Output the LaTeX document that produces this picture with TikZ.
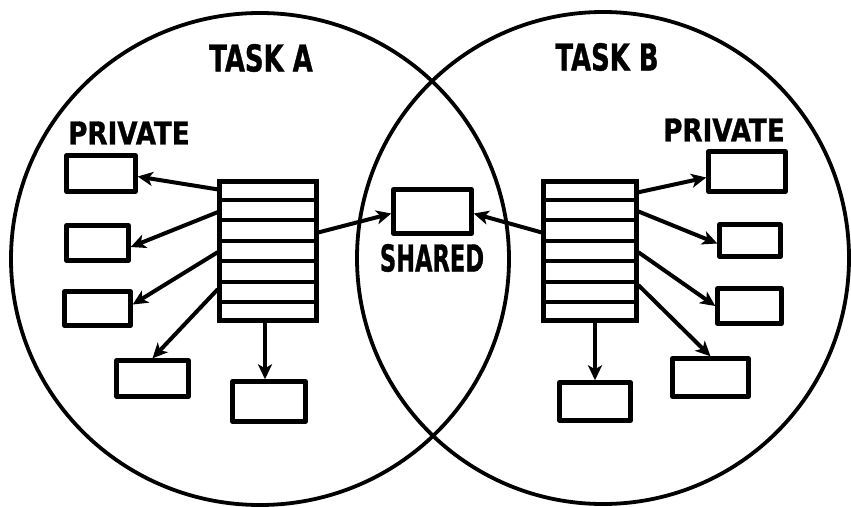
\documentclass[tikz,border=0pt]{standalone}
\usepackage{fontspec}
\newfontfamily\lett{DejaVu Sans Bold}[FakeBold=1.2]
\usetikzlibrary{arrows.meta,calc}

\tikzset{
  ring/.style={draw, line width=3.8pt},
  pbox/.style={draw, line width=4.4pt, rectangle, inner sep=0pt, line join=round},
  stack/.style={draw, line width=4.4pt, rectangle, inner sep=0pt, minimum width=#1, minimum height=139pt},
  link/.style={line width=4pt, line cap=round, -{Stealth[length=15pt,width=14pt,inset=4pt]}},
  title/.style={font=\lett\fontsize{37}{37}\selectfont, inner sep=0pt},
  tag/.style={font=\lett\fontsize{31.5}{31.5}\selectfont, inner sep=0pt}
}

\begin{document}
\begin{tikzpicture}[x=1pt,y=-1pt]
\useasboundingbox (0,0) rectangle (851,506);

% the two task domains
\draw[ring] (260,259) ellipse [x radius=249pt, y radius=246pt];
\draw[ring] (603,258) circle [radius=246pt];

% headings
\node[title] (ta) at (261,58) {\scalebox{0.70}[1]{TASK A}};
\node[title] (tb) at (607,57) {\scalebox{0.70}[1]{TASK B}};
\node[tag] (pa) at (129,133) {\scalebox{0.83}[1]{PRIVATE}};
\node[tag] (pb) at (724,130) {\scalebox{0.83}[1]{PRIVATE}};

% descriptor stacks
\node[stack=97pt] (sa) at (268,251) {};
\node[stack=93pt] (sb) at (590,251) {};
\foreach \s in {sa,sb}{
  \foreach \k in {1,...,6}{
    \draw[line width=4.4pt] ($(\s.north west)!\k/7!(\s.south west)$) -- ($(\s.north east)!\k/7!(\s.south east)$);
  }
}

% private segments of task A
\node[pbox, minimum width=69pt, minimum height=36pt] (a1) at (101,173.5) {};
\node[pbox, minimum width=62pt, minimum height=35pt] (a2) at (97.5,243) {};
\node[pbox, minimum width=66pt, minimum height=34pt] (a3) at (97.5,308.5) {};
\node[pbox, minimum width=72pt, minimum height=36pt] (a4) at (152.5,378.5) {};
\node[pbox, minimum width=73pt, minimum height=40pt] (a5) at (269,401.5) {};

% shared segment
\node[pbox, minimum width=78pt, minimum height=44pt] (sh) at (432.5,211.5) {};
\node[title] (shl) at (432,258) {\scalebox{0.61}[1]{SHARED}};

% private segments of task B
\node[pbox, minimum width=77pt, minimum height=40pt] (b1) at (747,171.5) {};
\node[pbox, minimum width=61pt, minimum height=32pt] (b2) at (750,240.5) {};
\node[pbox, minimum width=64pt, minimum height=35pt] (b3) at (749.5,306) {};
\node[pbox, minimum width=76pt, minimum height=38pt] (b4) at (710.5,377.5) {};
\node[pbox, minimum width=71pt, minimum height=38pt] (b5) at (595,401.5) {};

% references from task A
\draw[link] ($(sa.north west)!0.07!(sa.south west)$) -- ([yshift=-3pt]a1.east);
\draw[link] ($(sa.north west)!0.23!(sa.south west)$) -- ([yshift=-4pt]a2.east);
\draw[link] ($(sa.north west)!0.51!(sa.south west)$) -- ([yshift=4pt]a3.east);
\draw[link] ($(sa.north west)!0.77!(sa.south west)$) -- (a4.north);
\draw[link] ([xshift=-3pt]sa.south) -- ([xshift=-3pt]sa.south |- a5.north);
\draw[link] ($(sa.north east)!0.37!(sa.south east)$) -- ([yshift=-2pt]sh.west);

% references from task B
\draw[link] ($(sb.north west)!0.37!(sb.south west)$) -- ([yshift=-2pt]sh.east);
\draw[link] ($(sb.north east)!0.09!(sb.south east)$) -- ([yshift=-6pt]b1.west);
\draw[link] ($(sb.north east)!0.225!(sb.south east)$) -- ([yshift=-3pt]b2.west);
\draw[link] ($(sb.north east)!0.51!(sb.south east)$) -- (b3.west);
\draw[link] ($(sb.north east)!0.74!(sb.south east)$) -- (b4.north);
\draw[link] (sb.south -| b5.north) -- (b5.north);
\end{tikzpicture}
\end{document}
